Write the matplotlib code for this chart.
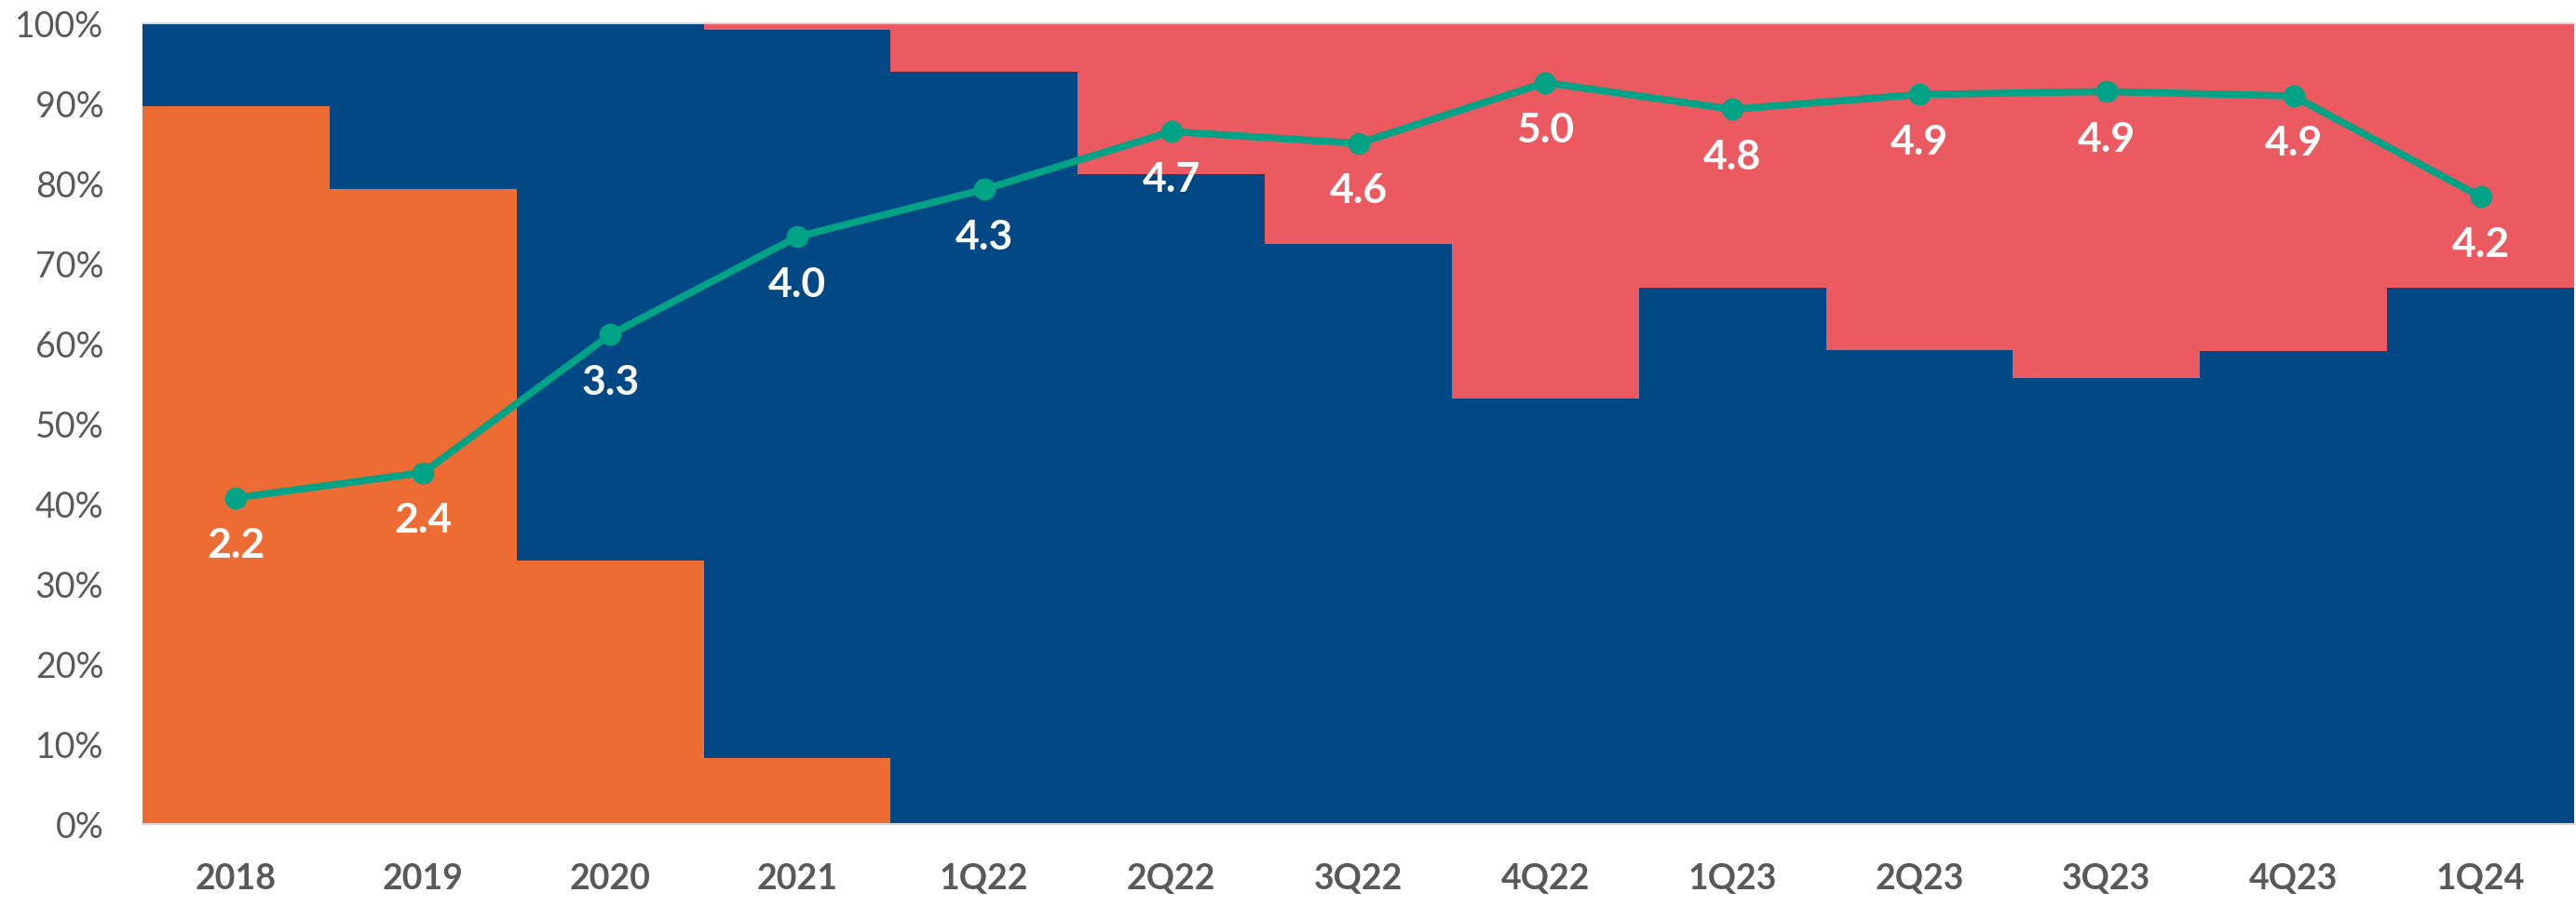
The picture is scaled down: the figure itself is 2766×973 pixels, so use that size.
import numpy as np
import matplotlib
matplotlib.use("Agg")
import matplotlib.pyplot as plt
from matplotlib.ticker import PercentFormatter

periods = ["2018", "2019", "2020", "2021", "1Q22", "2Q22", "3Q22", "4Q22",
           "1Q23", "2Q23", "3Q23", "4Q23", "1Q24"]
# shares (%) of the three stacked segments
orange_share = [89.7, 79.3, 32.9, 8.2, 0, 0, 0, 0, 0, 0, 0, 0, 0]
navy_share = [10.3, 20.7, 67.1, 91.0, 93.9, 81.2, 72.4, 53.1, 67.0, 59.2, 55.7, 59.1, 67.0]
red_share = [0, 0, 0, 0.8, 6.1, 18.8, 27.6, 46.9, 33.0, 40.8, 44.3, 40.9, 33.0]
# line series (secondary scale)
line_vals = [2.20, 2.37, 3.30, 3.96, 4.28, 4.67, 4.59, 5.00, 4.82, 4.92, 4.94, 4.91, 4.23]

c_orange = "#ED6C33"
c_navy = "#014884"
c_red = "#EB5A61"
c_green = "#00A386"
c_text = "#595959"

plt.rcParams['font.family'] = ['Lato', 'DejaVu Sans']

fig = plt.figure(figsize=(27.66, 9.73), dpi=100)
ax = fig.add_axes([153 / 2766, 88 / 973, 2611 / 2766, 860 / 973])

x = np.arange(len(periods))
o = np.array(orange_share)
n = np.array(navy_share)
r = np.array(red_share)
ax.bar(x, o, width=1.0, color=c_orange, linewidth=0, zorder=2)
ax.bar(x, n, width=1.0, bottom=o, color=c_navy, linewidth=0, zorder=2)
ax.bar(x, r, width=1.0, bottom=o + n, color=c_red, linewidth=0, zorder=2)

ax.set_xlim(-0.5, len(periods) - 0.5)
ax.set_ylim(0, 100)
ax.set_yticks(np.arange(0, 101, 10))
ax.yaxis.set_major_formatter(PercentFormatter(decimals=0))
ax.tick_params(axis='y', length=0, pad=30, labelsize=27, labelcolor=c_text)
ax.set_xticks(x)
ax.set_xticklabels(periods, fontweight='bold')
ax.tick_params(axis='x', length=0, pad=30, labelsize=27, labelcolor=c_text)
for s in ["left", "right"]:
    ax.spines[s].set_visible(False)
for s in ["top", "bottom"]:
    ax.spines[s].set_color("#D9D9D9")
    ax.spines[s].set_linewidth(1.5)

ax2 = ax.twinx()
ax2.set_ylim(0, 5.4)
ax2.plot(x, line_vals, color=c_green, linewidth=5.5, marker='o', markersize=16, zorder=3)
for xi, v in zip(x, line_vals):
    ax2.annotate(f"{v:.1f}", (xi, v), xytext=(0, -37), textcoords='offset points',
                 ha='center', va='center', color='white', fontsize=32, fontweight='bold')
ax2.set_yticks([])
for s in ax2.spines.values():
    s.set_visible(False)

fig.savefig("out.png", dpi=100)
